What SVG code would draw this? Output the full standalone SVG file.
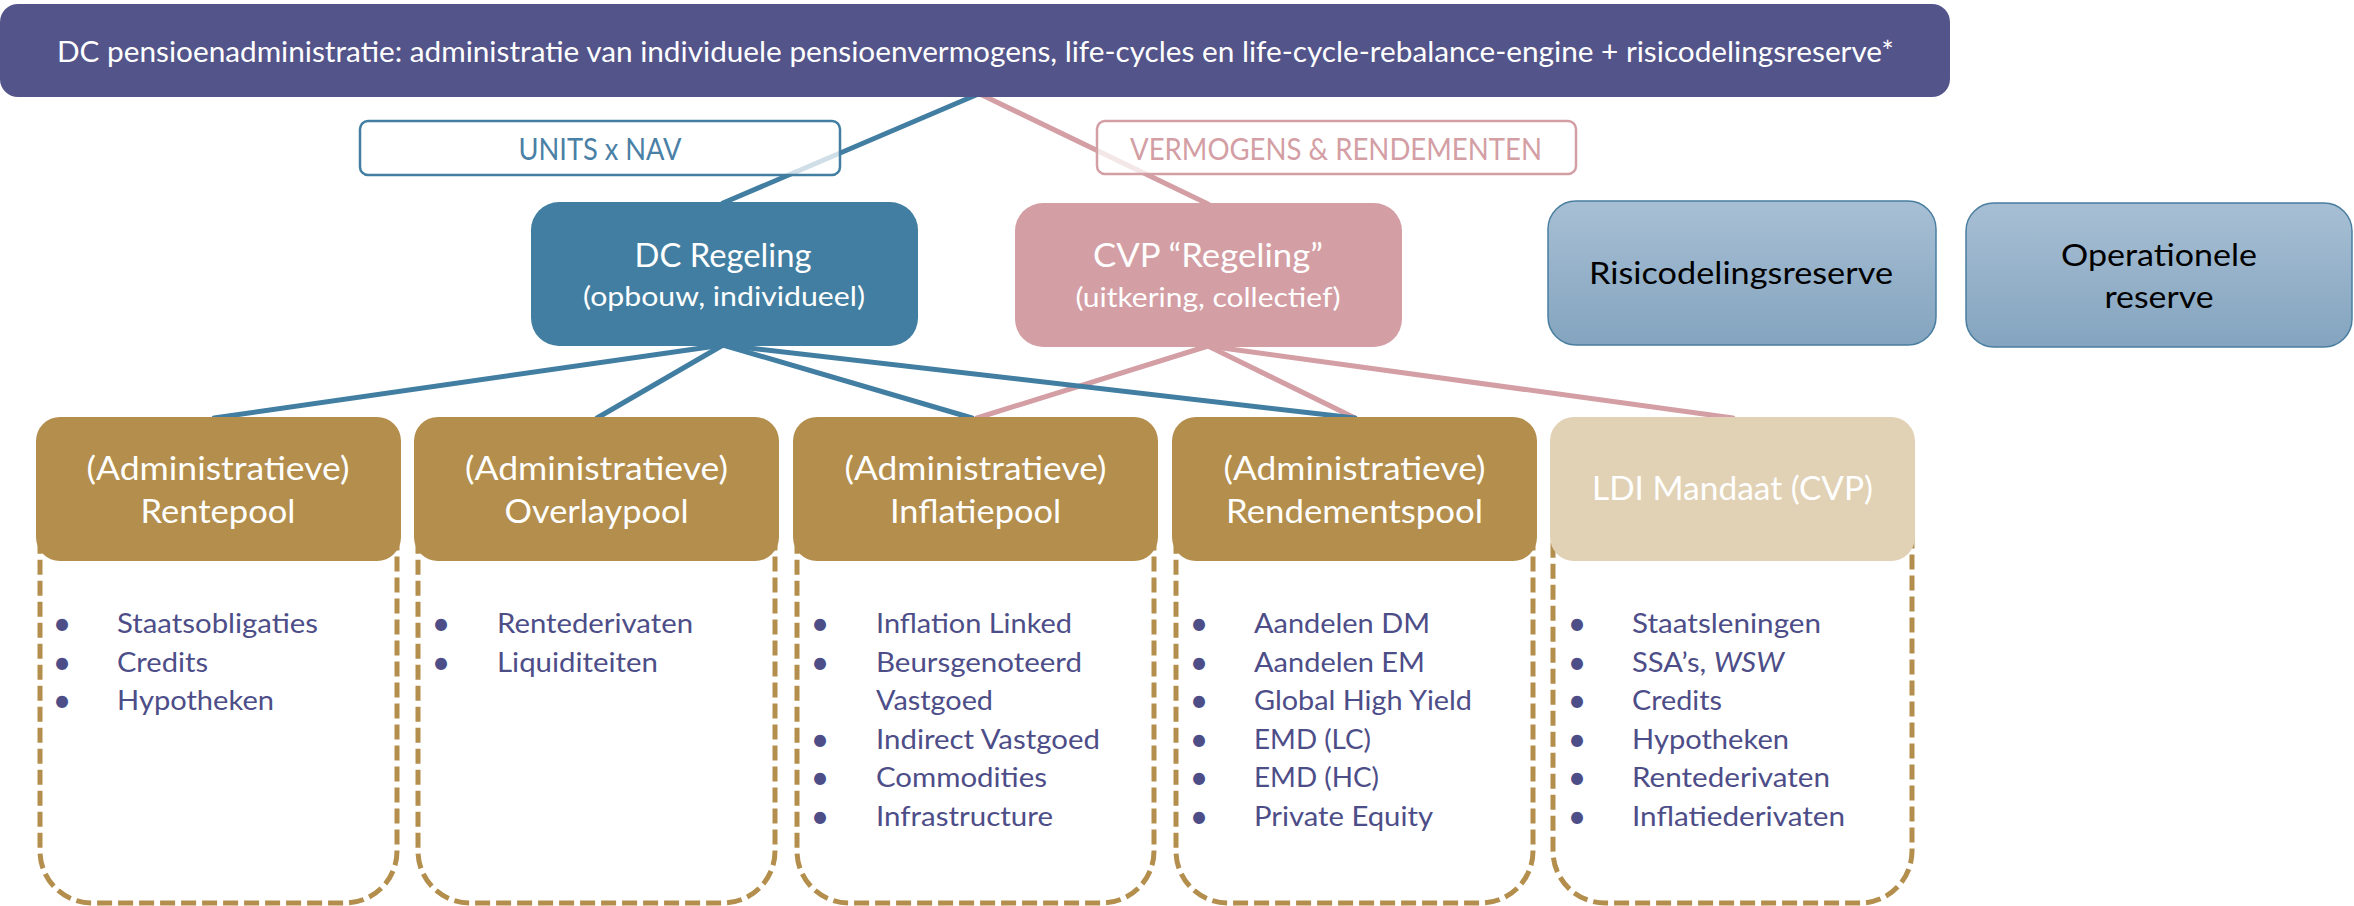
<svg xmlns="http://www.w3.org/2000/svg" width="2354" height="906" viewBox="0 0 2354 906">
<defs>
<linearGradient id="resGrad" x1="0" y1="0" x2="0" y2="1">
<stop offset="0" stop-color="#A7BFD4"/>
<stop offset="1" stop-color="#84A4BF"/>
</linearGradient>
<style>
text{font-family:Lato,'Liberation Sans',sans-serif}
.blue{stroke:#417EA1;stroke-width:5;stroke-linecap:round;fill:none}
.pink{stroke:#D39EA4;stroke-width:5;stroke-linecap:round;fill:none}
.hdr{fill:#B38E4C}
.dash{fill:none;stroke:#B38E4C;stroke-width:5;stroke-dasharray:15 6}
.li{fill:#4D4D88;font-size:27px}
.bul{fill:#4D4D88;font-size:32px;text-anchor:middle}
.h{font-size:32px;fill:#fff;text-anchor:middle}
.res{fill:url(#resGrad);stroke:#4A7EA0;stroke-width:1.5}
.rt{font-size:31px;fill:#000;text-anchor:middle}
</style>
</defs>
<rect width="2354" height="906" fill="#fff"/>

<g id="connectors">
<line class="pink" x1="982" y1="95" x2="1208" y2="204"/>
<line class="pink" x1="1208" y1="346" x2="977" y2="418"/>
<line class="pink" x1="1208" y1="346" x2="1355" y2="418"/>
<line class="pink" x1="1208" y1="346" x2="1733" y2="418"/>
<line class="blue" x1="976" y1="95" x2="723" y2="203"/>
<line class="blue" x1="723" y1="345" x2="214" y2="418"/>
<line class="blue" x1="723" y1="345" x2="597" y2="418"/>
<line class="blue" x1="723" y1="345" x2="972" y2="418"/>
<line class="blue" x1="723" y1="345" x2="1355" y2="418"/>
</g>

<g id="top">
<rect x="0" y="4" width="1950" height="93" rx="18" fill="#53548A"/>
<text x="975.5" y="62" font-size="28" fill="#fff" text-anchor="middle" textLength="1837" lengthAdjust="spacingAndGlyphs">DC pensioenadministratie: administratie van individuele pensioenvermogens, life-cycles en life-cycle-rebalance-engine + risicodelingsreserve*</text>
</g>

<g id="label-units">
<rect x="360" y="121" width="480" height="54" rx="8" fill="#fff" fill-opacity="0.75" stroke="#417EA1" stroke-width="2.5"/>
<text x="600" y="160" font-size="30" fill="#4A80A5" text-anchor="middle" textLength="163" lengthAdjust="spacingAndGlyphs">UNITS x NAV</text>
</g>

<g id="label-vermogens">
<rect x="1097" y="121" width="479" height="53" rx="8" fill="#fff" fill-opacity="0.75" stroke="#D39EA4" stroke-width="2.5"/>
<text x="1336" y="160" font-size="30" fill="#D39EA4" text-anchor="middle" textLength="412" lengthAdjust="spacingAndGlyphs">VERMOGENS &amp; RENDEMENTEN</text>
</g>

<g id="dc-regeling">
<rect x="531" y="202" width="387" height="144" rx="28" fill="#417EA1"/>
<text class="h" x="723" y="267" textLength="177" lengthAdjust="spacingAndGlyphs">DC Regeling</text>
<text x="724" y="306" font-size="27" fill="#fff" text-anchor="middle" textLength="282" lengthAdjust="spacingAndGlyphs">(opbouw, individueel)</text>
</g>

<g id="cvp-regeling">
<rect x="1015" y="203" width="387" height="144" rx="28" fill="#D39EA4"/>
<text class="h" x="1208" y="267" textLength="230" lengthAdjust="spacingAndGlyphs">CVP “Regeling”</text>
<text x="1208" y="307" font-size="27" fill="#fff" text-anchor="middle" textLength="265" lengthAdjust="spacingAndGlyphs">(uitkering, collectief)</text>
</g>

<g id="risicodelingsreserve">
<rect class="res" x="1548" y="201" width="388" height="144" rx="28"/>
<text class="rt" x="1741" y="284" textLength="304" lengthAdjust="spacingAndGlyphs">Risicodelingsreserve</text>
</g>

<g id="operationele-reserve">
<rect class="res" x="1966" y="203" width="386" height="144" rx="28"/>
<text class="rt" x="2159" y="266" textLength="196" lengthAdjust="spacingAndGlyphs">Operationele</text>
<text class="rt" x="2159" y="308" textLength="109" lengthAdjust="spacingAndGlyphs">reserve</text>
</g>

<g id="rentepool">
<rect class="dash" x="40" y="440" width="357" height="463" rx="52"/>
<rect class="hdr" x="36" y="417" width="365" height="144" rx="24"/>
<text class="h" x="218" y="480" textLength="263" lengthAdjust="spacingAndGlyphs">(Administratieve)</text>
<text class="h" x="218" y="523" textLength="155" lengthAdjust="spacingAndGlyphs">Rentepool</text>
<text class="bul" x="62" y="635">•</text>
<text class="bul" x="62" y="673.5">•</text>
<text class="bul" x="62" y="712">•</text>
<text class="li" x="117" y="633" textLength="201" lengthAdjust="spacingAndGlyphs">Staatsobligaties</text>
<text class="li" x="117" y="671.5" textLength="91" lengthAdjust="spacingAndGlyphs">Credits</text>
<text class="li" x="117" y="710" textLength="157" lengthAdjust="spacingAndGlyphs">Hypotheken</text>
</g>

<g id="overlaypool">
<rect class="dash" x="418" y="440" width="357" height="463" rx="52"/>
<rect class="hdr" x="414" y="417" width="365" height="144" rx="24"/>
<text class="h" x="596.5" y="480" textLength="263" lengthAdjust="spacingAndGlyphs">(Administratieve)</text>
<text class="h" x="596.5" y="523" textLength="184" lengthAdjust="spacingAndGlyphs">Overlaypool</text>
<text class="bul" x="441" y="635">•</text>
<text class="bul" x="441" y="673.5">•</text>
<text class="li" x="497" y="633" textLength="196" lengthAdjust="spacingAndGlyphs">Rentederivaten</text>
<text class="li" x="497" y="671.5" textLength="161" lengthAdjust="spacingAndGlyphs">Liquiditeiten</text>
</g>

<g id="inflatiepool">
<rect class="dash" x="797" y="440" width="357" height="463" rx="52"/>
<rect class="hdr" x="793" y="417" width="365" height="144" rx="24"/>
<text class="h" x="975.5" y="480" textLength="262" lengthAdjust="spacingAndGlyphs">(Administratieve)</text>
<text class="h" x="975.5" y="523" textLength="171" lengthAdjust="spacingAndGlyphs">Inflatiepool</text>
<text class="bul" x="820" y="635">•</text>
<text class="bul" x="820" y="673.5">•</text>
<text class="bul" x="820" y="750.5">•</text>
<text class="bul" x="820" y="789">•</text>
<text class="bul" x="820" y="827.5">•</text>
<text class="li" x="876" y="633" textLength="196" lengthAdjust="spacingAndGlyphs">Inflation Linked</text>
<text class="li" x="876" y="671.5" textLength="206" lengthAdjust="spacingAndGlyphs">Beursgenoteerd</text>
<text class="li" x="876" y="710" textLength="117" lengthAdjust="spacingAndGlyphs">Vastgoed</text>
<text class="li" x="876" y="748.5" textLength="224" lengthAdjust="spacingAndGlyphs">Indirect Vastgoed</text>
<text class="li" x="876" y="787" textLength="171" lengthAdjust="spacingAndGlyphs">Commodities</text>
<text class="li" x="876" y="825.5" textLength="177" lengthAdjust="spacingAndGlyphs">Infrastructure</text>
</g>

<g id="rendementspool">
<rect class="dash" x="1176" y="440" width="357" height="463" rx="52"/>
<rect class="hdr" x="1172" y="417" width="365" height="144" rx="24"/>
<text class="h" x="1354.5" y="480" textLength="262" lengthAdjust="spacingAndGlyphs">(Administratieve)</text>
<text class="h" x="1354.5" y="523" textLength="257" lengthAdjust="spacingAndGlyphs">Rendementspool</text>
<text class="bul" x="1199" y="635">•</text>
<text class="bul" x="1199" y="673.5">•</text>
<text class="bul" x="1199" y="712">•</text>
<text class="bul" x="1199" y="750.5">•</text>
<text class="bul" x="1199" y="789">•</text>
<text class="bul" x="1199" y="827.5">•</text>
<text class="li" x="1254" y="633" textLength="176" lengthAdjust="spacingAndGlyphs">Aandelen DM</text>
<text class="li" x="1254" y="671.5" textLength="171" lengthAdjust="spacingAndGlyphs">Aandelen EM</text>
<text class="li" x="1254" y="710" textLength="218" lengthAdjust="spacingAndGlyphs">Global High Yield</text>
<text class="li" x="1254" y="748.5" textLength="117" lengthAdjust="spacingAndGlyphs">EMD (LC)</text>
<text class="li" x="1254" y="787" textLength="125" lengthAdjust="spacingAndGlyphs">EMD (HC)</text>
<text class="li" x="1254" y="825.5" textLength="179" lengthAdjust="spacingAndGlyphs">Private Equity</text>
</g>

<g id="ldi-mandaat">
<rect class="dash" x="1553" y="440" width="359" height="463" rx="52"/>
<rect x="1550" y="417" width="365" height="144" rx="24" fill="#E1D1B5"/>
<text class="h" x="1732.5" y="500" textLength="281" lengthAdjust="spacingAndGlyphs">LDI Mandaat (CVP)</text>
<text class="bul" x="1577" y="635">•</text>
<text class="bul" x="1577" y="673.5">•</text>
<text class="bul" x="1577" y="712">•</text>
<text class="bul" x="1577" y="750.5">•</text>
<text class="bul" x="1577" y="789">•</text>
<text class="bul" x="1577" y="827.5">•</text>
<text class="li" x="1632" y="633" textLength="189" lengthAdjust="spacingAndGlyphs">Staatsleningen</text>
<text class="li" x="1632" y="671.5" textLength="152" lengthAdjust="spacingAndGlyphs">SSA’s, <tspan font-style="italic">WSW</tspan></text>
<text class="li" x="1632" y="710" textLength="90" lengthAdjust="spacingAndGlyphs">Credits</text>
<text class="li" x="1632" y="748.5" textLength="157" lengthAdjust="spacingAndGlyphs">Hypotheken</text>
<text class="li" x="1632" y="787" textLength="198" lengthAdjust="spacingAndGlyphs">Rentederivaten</text>
<text class="li" x="1632" y="825.5" textLength="213" lengthAdjust="spacingAndGlyphs">Inflatiederivaten</text>
</g>
</svg>
